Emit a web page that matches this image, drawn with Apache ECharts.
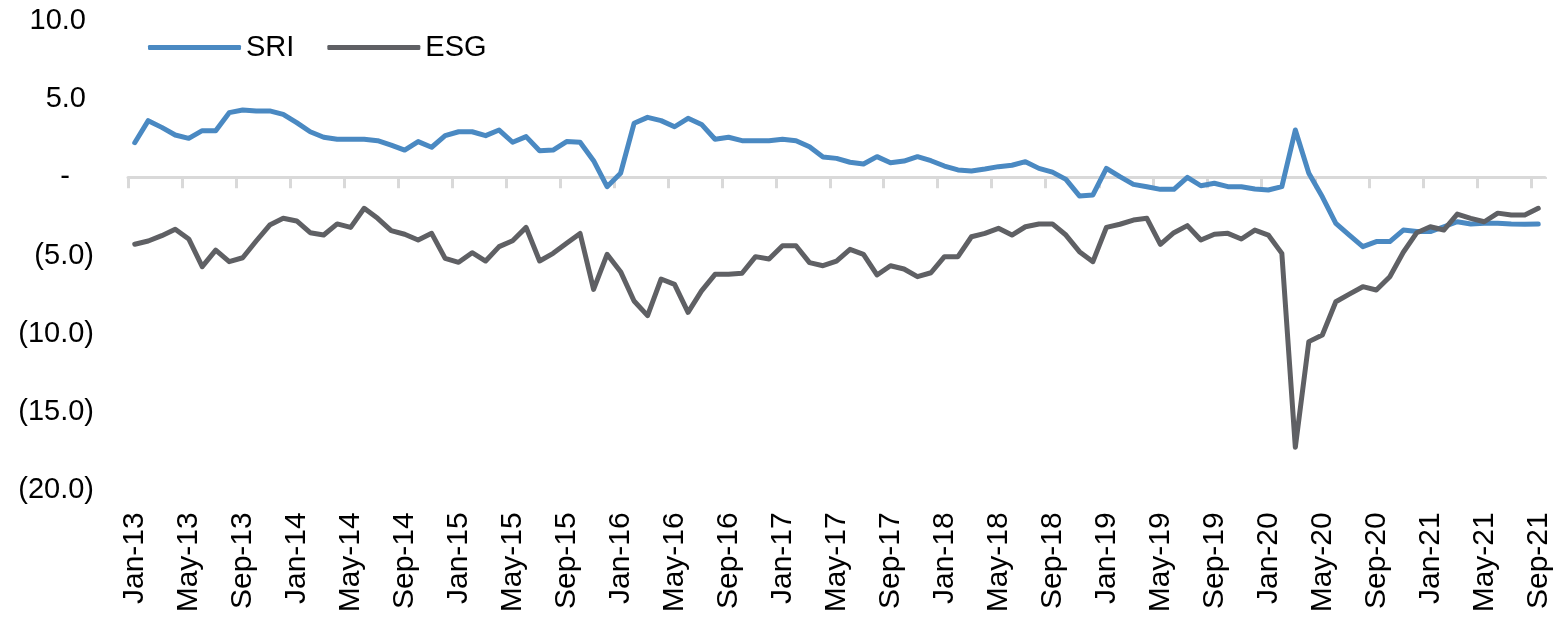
<!DOCTYPE html>
<html>
<head>
<meta charset="utf-8">
<script src="https://cdn.jsdelivr.net/npm/echarts@6/dist/echarts.min.js"></script>
<style>
html,body{margin:0;padding:0;background:#fff;}
#c{width:1557px;height:621px;}
</style>
</head>
<body>
<div id="c"></div>
<script>
// Categories: monthly, Jan-13 .. Sep-21
const monthNames = ['Jan','Feb','Mar','Apr','May','Jun','Jul','Aug','Sep','Oct','Nov','Dec'];
const categories = [];
for (let y = 13; y <= 21; y++) {
  for (let m = 0; m < 12; m++) {
    if (y === 21 && m > 8) break;
    categories.push(monthNames[m] + '-' + y);
  }
}
const sri = [
  2.21, 3.62, 3.19, 2.70, 2.49, 2.98, 2.98, 4.13, 4.30, 4.24, 4.24, 4.02,
  3.49, 2.91, 2.56, 2.43, 2.43, 2.43, 2.34, 2.06, 1.74, 2.28, 1.92, 2.66,
  2.91, 2.91, 2.66, 3.02, 2.24, 2.60, 1.70, 1.74, 2.28, 2.24, 1.06, -0.60,
  0.26, 3.45, 3.83, 3.62, 3.23, 3.77, 3.38, 2.43, 2.56, 2.34, 2.34, 2.34,
  2.43, 2.34, 1.95, 1.30, 1.21, 0.96, 0.85, 1.32, 0.93, 1.04, 1.32, 1.06,
  0.72, 0.47, 0.40, 0.53, 0.68, 0.77, 1.00, 0.57, 0.33, -0.13, -1.19, -1.13,
  0.57, 0.04, -0.45, -0.60, -0.77, -0.77, 0.00, -0.54, -0.38, -0.60, -0.60, -0.75,
  -0.81, -0.60, 3.02, 0.26, -1.25, -2.94, -3.69, -4.43, -4.11, -4.11, -3.37, -3.47,
  -3.47, -3.16, -2.84, -2.98, -2.94, -2.94, -2.98, -3.00, -2.98
];
const esg = [
  -4.28, -4.07, -3.73, -3.32, -3.94, -5.71, -4.65, -5.39, -5.14, -4.07, -3.05, -2.62,
  -2.79, -3.54, -3.69, -2.98, -3.20, -1.98, -2.62, -3.41, -3.64, -4.01, -3.58, -5.18,
  -5.43, -4.82, -5.35, -4.43, -4.05, -3.20, -5.35, -4.86, -4.22, -3.59, -7.16, -4.92,
  -6.03, -7.90, -8.84, -6.50, -6.84, -8.63, -7.26, -6.20, -6.20, -6.13, -5.07, -5.22,
  -4.37, -4.37, -5.45, -5.65, -5.35, -4.60, -4.92, -6.24, -5.65, -5.86, -6.35, -6.10,
  -5.07, -5.07, -3.80, -3.58, -3.26, -3.69, -3.16, -2.98, -2.98, -3.69, -4.75, -5.39,
  -3.20, -3.00, -2.73, -2.62, -4.28, -3.54, -3.09, -4.01, -3.64, -3.58, -3.94, -3.37,
  -3.69, -4.86, -17.25, -10.50, -10.08, -7.95, -7.46, -6.99, -7.20, -6.35, -4.79, -3.54,
  -3.16, -3.37, -2.35, -2.62, -2.84, -2.29, -2.41, -2.41, -1.98
];
const seriesNames = ['SRI', 'ESG'];

function fmt(v) {
  if (v === 0) return '-   ';
  if (v < 0) return '(' + Math.abs(v).toFixed(1) + ')';
  return v.toFixed(1) + ' ';
}

const FONT = 'Liberation Sans, Arial, sans-serif';
const GRID = {left: 128, right: 12, top: 20.8, bottom: 130.7};
const chart = echarts.init(document.getElementById('c'), null, {renderer: 'canvas'});
chart.setOption({
  animation: false,
  backgroundColor: '#ffffff',
  grid: Object.assign({containLabel: false}, GRID),
  legend: {
    data: seriesNames,
    left: 143, top: 28,
    icon: 'roundRect',
    itemWidth: 93, itemHeight: 5, itemGap: 33,
    textStyle: {fontFamily: FONT, fontSize: 29, color: '#000'}
  },
  xAxis: [
    {
      type: 'category', data: categories, boundaryGap: true,
      axisLine: {onZero: true, lineStyle: {color: '#d9d9d9', width: 3}},
      axisTick: {show: true, interval: 3, length: 11, lineStyle: {color: '#d9d9d9', width: 3}},
      axisLabel: {show: false},
      splitLine: {show: false}
    },
    {
      type: 'category', data: categories, boundaryGap: true, position: 'bottom',
      axisLine: {show: false, onZero: false},
      axisTick: {show: false},
      axisLabel: {show: true, interval: 3, rotate: 90, margin: 22, fontFamily: FONT, fontSize: 30, color: '#000'},
      splitLine: {show: false}
    }
  ],
  yAxis: {
    type: 'value', min: -20, max: 10, interval: 5,
    axisLine: {show: false}, axisTick: {show: false}, splitLine: {show: false},
    axisLabel: {formatter: fmt, margin: 34, fontFamily: FONT, fontSize: 29, color: '#000'}
  },
  series: [
    {
      name: seriesNames[0], type: 'line', data: sri, xAxisIndex: 0, symbol: 'none', smooth: false,
      itemStyle: {color: '#4a89c2'},
      lineStyle: {color: '#4a89c2', width: 5, cap: 'round', join: 'round'}
    },
    {
      name: seriesNames[1], type: 'line', data: esg, xAxisIndex: 0, symbol: 'none', smooth: false,
      itemStyle: {color: '#5f6064'},
      lineStyle: {color: '#5f6064', width: 5, cap: 'round', join: 'round'}
    }
  ]
});

// ECharts always adds a closing tick at the end of a band axis; the reference has none there.
const y0 = chart.convertToPixel({yAxisIndex: 0}, 0);
const xEnd = 1557 - GRID.right;
chart.setOption({
  graphic: [{
    type: 'rect', z: 100,
    shape: {x: xEnd - 3, y: y0 + 1.6, width: 8, height: 13},
    style: {fill: '#ffffff'}
  }]
});
</script>
</body>
</html>
